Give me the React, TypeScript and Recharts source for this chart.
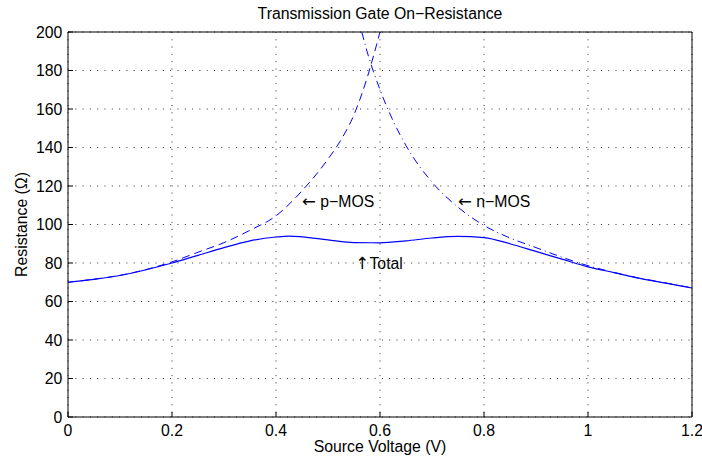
import React from "react";
import {
  LineChart,
  Line,
  XAxis,
  YAxis,
  CartesianGrid,
  ReferenceDot,
} from "recharts";

// Source voltage sweep (V) and the on-resistance of each device (ohms)
const pmosVoltage = [0, 0.05, 0.1, 0.15, 0.2, 0.25, 0.3, 0.35, 0.4, 0.45, 0.5, 0.525, 0.55, 0.575, 0.6];
const pmosResistance = [70, 71.6, 73.6, 76.6, 80.6, 85.6, 90.6, 97, 104.5, 117.5, 134, 144, 157, 176, 200];

const nmosVoltage = [0.565, 0.575, 0.6, 0.625, 0.65, 0.7, 0.75, 0.8, 0.85, 0.9, 0.95, 1.0, 1.05, 1.1, 1.15, 1.2];
const nmosResistance = [200, 190, 170, 154, 141, 122, 109, 99.5, 93, 88, 83, 78.6, 75.1, 72.1, 69.6, 67.1];

const totalVoltage = [0, 0.05, 0.1, 0.15, 0.2, 0.25, 0.3, 0.35, 0.4, 0.425, 0.45, 0.5, 0.55, 0.6, 0.65, 0.7, 0.75, 0.8, 0.85, 0.9, 0.95, 1.0, 1.05, 1.1, 1.15, 1.2];
const totalResistance = [70, 71.5, 73.5, 76.5, 80, 84, 88, 91.5, 93.5, 94, 93.6, 92, 90.6, 90.5, 91.5, 93, 93.8, 93.2, 90, 86, 82, 78, 75, 72, 69.5, 67];

const xTicks = [0, 0.2, 0.4, 0.6, 0.8, 1, 1.2];
const yTicks = [0, 20, 40, 60, 80, 100, 120, 140, 160, 180, 200];

const toPoints = (xs: number[], ys: number[]) => xs.map((v, i) => ({ v, r: ys[i] }));

const pmosData = toPoints(pmosVoltage, pmosResistance);
const nmosData = toPoints(nmosVoltage, nmosResistance);
const totalData = toPoints(totalVoltage, totalResistance);

const FONT = "'Liberation Sans', Arial, Helvetica, sans-serif";
const ARROW_FONT = "'DejaVu Sans', sans-serif";
const FS = 15.8;
const BLUE = "#0000ff";

// MATLAB-style text annotations, anchored left / middle at a data point
const annotations = [
  { v: 0.45, r: 112, arrow: "\u2190", text: " p\u2212MOS" },
  { v: 0.75, r: 112, arrow: "\u2190", text: " n\u2212MOS" },
  { v: 0.553, r: 80, arrow: "\u2191", text: "Total" },
];

const tickStyle = { fill: "#000", fontSize: FS, fontFamily: FONT };

export default function App() {
  return (
    <div style={{ position: "absolute", left: 0, top: 0, background: "#fff" }}>
      <LineChart
        width={702}
        height={462}
        margin={{ top: 31, right: 9, bottom: 0, left: 0 }}
        style={{ fontFamily: FONT }}
      >
        <CartesianGrid
          stroke="#333"
          strokeDasharray="1 6.3"
          strokeWidth={1}
        />
        <XAxis
          dataKey="v"
          type="number"
          domain={[0, 1.2]}
          ticks={xTicks}
          allowDataOverflow
          height={45}
          stroke="#000"
          tickSize={-5}
          tickMargin={13}
          tick={tickStyle}
          label={({ viewBox }: any) => (
            <text
              x={viewBox.x + viewBox.width / 2}
              y={452}
              textAnchor="middle"
              fontSize={FS}
              fontFamily={FONT}
              fill="#000"
            >
              Source Voltage (V)
            </text>
          )}
        />
        {/* top and right edges of the axes box, ticks pointing inward */}
        <XAxis
          xAxisId="top"
          orientation="top"
          type="number"
          domain={[0, 1.2]}
          ticks={xTicks}
          allowDataOverflow
          height={1}
          stroke="#000"
          tickSize={-5}
          tick={false}
          label={({ viewBox }: any) => (
            <text
              x={viewBox.x + viewBox.width / 2}
              y={18.5}
              textAnchor="middle"
              fontSize={FS}
              fontFamily={FONT}
              fill="#000"
            >
              Transmission Gate On{"\u2212"}Resistance
            </text>
          )}
        />
        <YAxis
          type="number"
          domain={[0, 200]}
          ticks={yTicks}
          allowDataOverflow
          width={68}
          stroke="#000"
          tickSize={-5}
          tickMargin={10.7}
          tick={tickStyle}
          label={({ viewBox }: any) => (
            <text
              x={26.5}
              y={viewBox.y + viewBox.height / 2}
              transform={`rotate(-90, 26.5, ${viewBox.y + viewBox.height / 2})`}
              textAnchor="middle"
              fontSize={FS}
              fontFamily={FONT}
              fill="#000"
            >
              Resistance ({"\u03a9"})
            </text>
          )}
        />
        <YAxis
          yAxisId="right"
          orientation="right"
          type="number"
          domain={[0, 200]}
          ticks={yTicks}
          allowDataOverflow
          width={1}
          stroke="#000"
          tickSize={-5}
          tick={false}
        />

        <Line
          data={pmosData}
          dataKey="r"
          type="monotone"
          stroke={BLUE}
          strokeWidth={1}
          strokeDasharray="8 5"
          dot={false}
          activeDot={false}
          isAnimationActive={false}
        />
        <Line
          data={nmosData}
          dataKey="r"
          type="monotone"
          stroke={BLUE}
          strokeWidth={1}
          strokeDasharray="8 4 1 4"
          dot={false}
          activeDot={false}
          isAnimationActive={false}
        />
        <Line
          data={totalData}
          dataKey="r"
          type="monotone"
          stroke={BLUE}
          strokeWidth={1.2}
          dot={false}
          activeDot={false}
          isAnimationActive={false}
        />

        {annotations.map((a) => (
          <ReferenceDot
            key={a.text}
            x={a.v}
            y={a.r}
            r={0}
            fill="none"
            stroke="none"
            label={({ viewBox }: any) => (
              <text
                x={viewBox.x}
                y={viewBox.y}
                dy={FS * 0.355}
                textAnchor="start"
                fontSize={FS}
                fontFamily={FONT}
                fill="#000"
              >
                <tspan fontFamily={ARROW_FONT} fontSize={FS * 1.05}>{a.arrow}</tspan>
                {a.text}
              </text>
            )}
          />
        ))}
      </LineChart>
    </div>
  );
}
